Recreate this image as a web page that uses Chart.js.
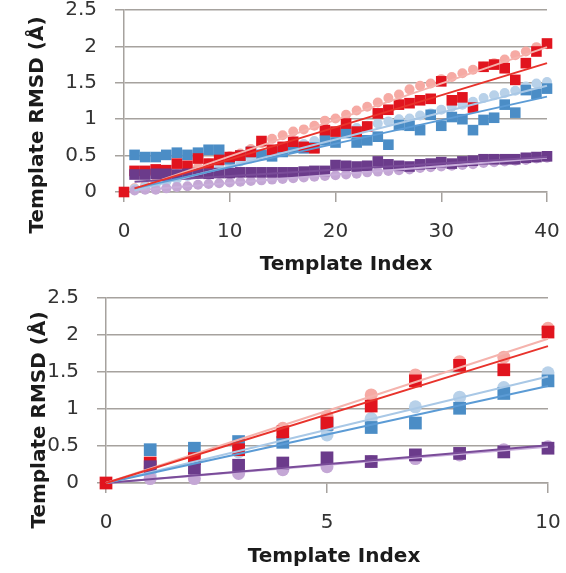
<!DOCTYPE html>
<html>
<head>
<meta charset="utf-8">
<script src="https://cdn.jsdelivr.net/npm/chart.js"></script>
<style>
  html, body { margin: 0; background: #fff; }
  canvas { position: absolute; left: 0; }
  #top-chart { top: 0; }
  #bottom-chart { top: 280px; }
</style>
</head>
<body>
<canvas id="top-chart" width="566" height="280"></canvas>
<canvas id="bottom-chart" width="566" height="293"></canvas>
<script>
// ---- data: top panel (templates 0..40) ----
const topIdx = [0,1,2,3,4,5,6,7,8,9,10,11,12,13,14,15,16,17,18,19,20,21,22,23,24,25,26,27,28,29,30,31,32,33,34,35,36,37,38,39,40];
const topRed = [0,0.29,0.29,0.31,0.30,0.39,0.36,0.46,0.39,0.44,0.48,0.50,0.55,0.70,0.58,0.62,0.69,0.62,0.60,0.85,0.83,0.94,0.83,0.90,1.08,1.13,1.20,1.22,1.26,1.28,1.52,1.26,1.30,1.16,1.72,1.75,1.70,1.54,1.77,1.93,2.04];
const topPink = [null,0.05,0.09,0.13,0.17,0.24,0.29,0.34,0.39,0.44,0.49,0.53,0.59,0.67,0.73,0.78,0.83,0.86,0.91,0.98,1.01,1.06,1.12,1.17,1.23,1.29,1.34,1.41,1.46,1.49,1.55,1.58,1.63,1.68,1.72,1.77,1.82,1.88,1.93,1.99,2.03];
const topBlue = [null,0.51,0.48,0.48,0.51,0.54,0.51,0.54,0.58,0.58,0.45,0.50,0.55,0.51,0.49,0.55,0.61,0.60,0.61,0.71,0.68,0.81,0.68,0.71,0.76,0.65,0.92,0.91,0.85,1.06,0.91,1.03,1.00,0.85,0.99,1.02,1.20,1.09,1.40,1.35,1.42];
const topLightBlue = [null,0.04,0.07,0.10,0.14,0.18,0.22,0.26,0.30,0.34,0.38,0.42,0.46,0.50,0.54,0.58,0.62,0.66,0.70,0.75,0.80,0.84,0.88,0.91,0.94,0.97,1.00,1.01,1.05,1.08,1.13,1.17,1.20,1.24,1.29,1.33,1.36,1.39,1.45,1.49,1.51];
const topPurple = [null,0.24,0.24,0.25,0.25,0.24,0.25,0.26,0.25,0.26,0.26,0.27,0.27,0.27,0.27,0.27,0.27,0.28,0.29,0.29,0.37,0.36,0.35,0.36,0.42,0.38,0.36,0.35,0.38,0.39,0.41,0.39,0.42,0.43,0.45,0.45,0.45,0.45,0.47,0.48,0.49];
const topLavender = [null,0.02,0.03,0.03,0.05,0.07,0.08,0.10,0.11,0.12,0.13,0.14,0.15,0.16,0.17,0.18,0.19,0.20,0.21,0.22,0.23,0.24,0.25,0.27,0.28,0.29,0.30,0.31,0.33,0.34,0.35,0.36,0.37,0.38,0.40,0.41,0.42,0.43,0.44,0.46,0.47];

// trend line end points
const topTrendX = [1, 40];
const topTrendRed = [0.05, 1.77];
const topTrendPink = [0.04, 1.99];
const topTrendBlue = [0.05, 1.31];
const topTrendLightBlue = [0.02, 1.46];
const topTrendPurple = [0.14, 0.48];
const topTrendLavender = [0.02, 0.47];

// ---- data: bottom panel (templates 0..10) ----
const botIdx = [0,1,2,3,4,5,6,7,8,9,10];
const botRed = [0,0.27,0.33,0.45,0.69,0.81,1.04,1.38,1.59,1.53,2.04];
const botPink = [null,0.20,0.38,0.50,0.74,0.90,1.19,1.46,1.64,1.70,2.09];
const botBlue = [null,0.45,0.47,0.56,0.55,0.79,0.75,0.81,1.01,1.21,1.38];
const botLightBlue = [null,0.10,0.28,0.42,0.58,0.65,0.87,1.03,1.16,1.29,1.49];
const botPurple = [null,0.22,0.20,0.24,0.27,0.34,0.29,0.38,0.40,0.42,0.47];
const botLavender = [null,0.06,0.06,0.13,0.18,0.22,0.29,0.33,0.38,0.45,0.49];

const botTrendX = [0, 10];
const botTrendRed = [0, 1.85];
const botTrendPink = [0, 1.95];
const botTrendBlue = [0, 1.31];
const botTrendLightBlue = [0, 1.44];
const botTrendPurple = [0, 0.51];
const botTrendLavender = [0, 0.49];

const yTicks = [0, 0.5, 1, 1.5, 2, 2.5];

const colors = {
  red: '#e1141e', pink: '#f6aaa4', blue: '#4b8dc6',
  lightBlue: '#b8d1e9', purple: '#6b3b8b', lavender: '#c4a7d5'
};
const lineColors = {
  red: '#e8332c', pink: '#f5b3ad', blue: '#5b9bd5',
  lightBlue: '#a9c8e6', purple: '#7a4c99', lavender: '#c9aedb'
};

Chart.defaults.font.family = '"DejaVu Sans", sans-serif';

function pts(xs, ys) {
  const out = [];
  xs.forEach((x, i) => { if (ys[i] != null) out.push({x: x, y: ys[i]}); });
  return out;
}

function markers(xs, ys, color, style, r) {
  return {
    data: pts(xs, ys),
    pointStyle: style,
    pointRadius: r,
    pointBackgroundColor: color,
    pointBorderColor: color,
    pointBorderWidth: 0,
    showLine: false,
    clip: false
  };
}

function trend(xs, ys, color) {
  return {
    data: pts(xs, ys),
    showLine: true,
    borderColor: color,
    borderWidth: 2,
    pointRadius: 0,
    clip: false
  };
}

// writes the axis titles where the original figure has them
const axisTitles = {
  id: 'axisTitles',
  afterDraw(chart, args, o) {
    const ctx = chart.ctx;
    ctx.save();
    ctx.font = 'bold 20px "DejaVu Sans"';
    ctx.fillStyle = '#1b1b1b';
    ctx.textAlign = 'center';
    ctx.textBaseline = 'alphabetic';
    ctx.fillText(o.xText, o.xPos[0], o.xPos[1]);
    ctx.translate(o.yPos[0], o.yPos[1]);
    ctx.rotate(-Math.PI / 2);
    ctx.textBaseline = 'middle';
    ctx.fillText(o.yText, 0, 0);
    ctx.restore();
  }
};

function makeChart(el, datasets, p) {
  new Chart(el, {
    type: 'scatter',
    data: { datasets: datasets },
    plugins: [axisTitles],
    options: {
      responsive: false,
      animation: false,
      layout: { padding: { left: 0, top: p.top, right: p.right, bottom: 0 } },
      scales: {
        x: {
          type: 'linear', min: 0, max: p.xMax,
          afterFit: s => { s.height = p.xHeight; s.paddingLeft = 0; s.paddingRight = 0; },
          ticks: { stepSize: p.xStep, padding: 20, color: '#333', font: { size: 20, lineHeight: 1 } },
          grid: { drawOnChartArea: false, drawTicks: true, tickLength: 10, color: '#a6a29e', lineWidth: 1.5 },
          border: { display: true, color: '#a6a29e', width: 1.5 }
        },
        y: {
          min: 0, max: 2.5,
          afterFit: s => { s.width = p.yWidth; s.paddingTop = 0; s.paddingBottom = 0; },
          afterBuildTicks: s => { s.ticks = yTicks.map(v => ({value: v})); },
          ticks: { padding: 18, color: '#333', font: { size: 20, lineHeight: 1 }, callback: v => String(v) },
          grid: { color: '#a6a29e', lineWidth: 1.5, tickLength: 9 },
          border: { display: true, color: '#a6a29e', width: 1.5 }
        }
      },
      plugins: {
        legend: { display: false },
        tooltip: { enabled: false },
        axisTitles: { xText: 'Template Index', yText: 'Template RMSD (Å)', xPos: p.xTitle, yPos: p.yTitle }
      }
    }
  });
}

// first dataset is drawn on top
makeChart(document.getElementById('top-chart'), [
  trend(topTrendX, topTrendRed, lineColors.red),
  trend(topTrendX, topTrendBlue, lineColors.blue),
  trend(topTrendX, topTrendLightBlue, lineColors.lightBlue),
  trend(topTrendX, topTrendPurple, lineColors.purple),
  trend(topTrendX, topTrendLavender, lineColors.lavender),
  trend(topTrendX, topTrendPink, lineColors.pink),
  markers(topIdx, topPurple, colors.purple, 'rect', 7.5),
  markers(topIdx, topRed, colors.red, 'rect', 7.5),
  markers(topIdx, topBlue, colors.blue, 'rect', 7.5),
  markers(topIdx, topLavender, colors.lavender, 'circle', 5),
  markers(topIdx, topLightBlue, colors.lightBlue, 'circle', 5),
  markers(topIdx, topPink, colors.pink, 'circle', 5)
], { top: 10, right: 19, xMax: 40, xStep: 10, xHeight: 88, yWidth: 124,
     xTitle: [346, 270], yTitle: [38, 125] });

makeChart(document.getElementById('bottom-chart'), [
  trend(botTrendX, botTrendRed, lineColors.red),
  trend(botTrendX, botTrendPink, lineColors.pink),
  trend(botTrendX, botTrendBlue, lineColors.blue),
  trend(botTrendX, botTrendLightBlue, lineColors.lightBlue),
  trend(botTrendX, botTrendPurple, lineColors.purple),
  trend(botTrendX, botTrendLavender, lineColors.lavender),
  markers(botIdx, botPurple, colors.purple, 'rect', 9),
  markers(botIdx, botRed, colors.red, 'rect', 9),
  markers(botIdx, botBlue, colors.blue, 'rect', 9),
  markers(botIdx, botLavender, colors.lavender, 'circle', 6.5),
  markers(botIdx, botLightBlue, colors.lightBlue, 'circle', 6.5),
  markers(botIdx, botPink, colors.pink, 'circle', 6.5)
], { top: 18, right: 18, xMax: 10, xStep: 5, xHeight: 90, yWidth: 106,
     xTitle: [334, 282], yTitle: [40, 140] });
</script>
</body>
</html>
